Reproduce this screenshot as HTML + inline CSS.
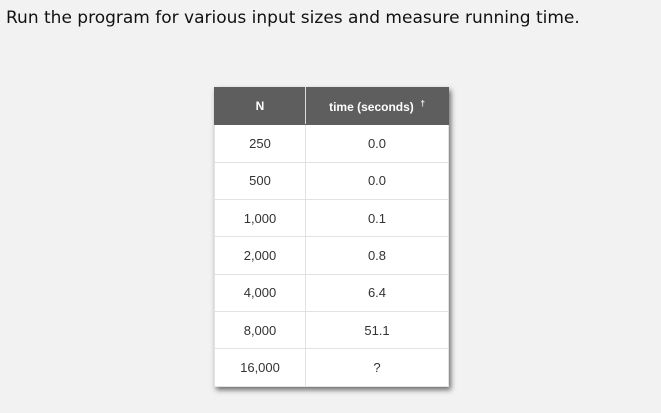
<!DOCTYPE html>
<html><head><style>
body{margin:0;width:661px;height:413px;background:#f2f2f2;font-family:"Liberation Sans",sans-serif;position:relative;overflow:hidden}
h1{position:absolute;left:6px;top:8px;margin:0;font-family:"DejaVu Sans",sans-serif;font-size:17px;font-weight:normal;color:#111}
table{position:absolute;left:214px;top:87px;border-collapse:collapse;box-shadow:2px 3px 5px rgba(0,0,0,0.55);background:#fff}
td,th{height:36.35px;padding:0;text-align:center;font-size:13px;color:#333;border:1px solid #e2e2e2}
th{background:#5e5e5e;color:#fff;font-weight:bold;font-size:12px;border:1px solid #5e5e5e;border-right:1px solid #ddd}
th:last-child{border-right:1px solid #5e5e5e}
.c1{width:90px}.c2{width:142px}
</style></head><body>
<h1>Run the program for various input sizes and measure running time.</h1>
<table>
<tr><th class="c1">N</th><th class="c2">time (seconds) &nbsp;<sup style="font-size:8px">†</sup></th></tr>
<tr><td>250</td><td>0.0</td></tr>
<tr><td>500</td><td>0.0</td></tr>
<tr><td>1,000</td><td>0.1</td></tr>
<tr><td>2,000</td><td>0.8</td></tr>
<tr><td>4,000</td><td>6.4</td></tr>
<tr><td>8,000</td><td>51.1</td></tr>
<tr><td>16,000</td><td>?</td></tr>
</table>
</body></html>
